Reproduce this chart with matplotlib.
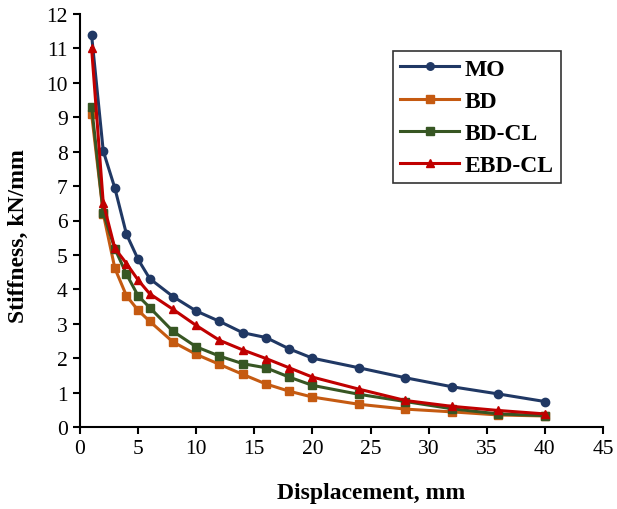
import matplotlib
matplotlib.use('Agg')
import matplotlib.pyplot as plt

# data
displacement = [1, 2, 3, 4, 5, 6, 8, 10, 12, 14, 16, 18, 20, 24, 28, 32, 36, 40]
mo = [11.38, 8.02, 6.94, 5.60, 4.87, 4.31, 3.79, 3.37, 3.07, 2.74, 2.60, 2.27, 2.00, 1.72, 1.43, 1.17, 0.96, 0.74]
bd = [9.09, 6.20, 4.61, 3.81, 3.39, 3.07, 2.47, 2.11, 1.82, 1.53, 1.25, 1.04, 0.87, 0.66, 0.52, 0.44, 0.35, 0.32]
bd_cl = [9.31, 6.22, 5.18, 4.44, 3.81, 3.47, 2.78, 2.33, 2.06, 1.84, 1.72, 1.45, 1.21, 0.95, 0.74, 0.53, 0.38, 0.33]
ebd_cl = [11.0, 6.51, 5.19, 4.75, 4.27, 3.87, 3.42, 2.95, 2.52, 2.24, 1.99, 1.72, 1.45, 1.10, 0.77, 0.60, 0.48, 0.38]

plt.rcParams['font.family'] = ['Liberation Serif', 'DejaVu Serif']

fig = plt.figure(figsize=(6.17, 5.10), dpi=100)
ax = fig.add_axes([80 / 617, 1 - 428 / 510, 523 / 617, 413 / 510])

series = [
    ('MO', mo, '#203864', 'o'),
    ('BD', bd, '#C55A11', 's'),
    ('BD-CL', bd_cl, '#375623', 's'),
    ('EBD-CL', ebd_cl, '#C00000', '^'),
]
for name, vals, col, mk in series:
    ax.plot(displacement, vals, color=col, marker=mk, markersize=6, linewidth=2.2, label=name)

ax.set_xlim(0, 45)
ax.set_ylim(0, 12)
ax.set_xticks(range(0, 46, 5))
ax.set_yticks(range(0, 13))
ax.spines['top'].set_visible(False)
ax.spines['right'].set_visible(False)
ax.spines['left'].set_linewidth(1.5)
ax.spines['bottom'].set_linewidth(1.5)
ax.tick_params(direction='out', length=5, width=1.5, labelsize=15.5, colors='black', pad=4)

# axis titles placed where they sit in the reference
fig.text(371 / 617, 1 - 494 / 510, 'Displacement, mm', fontsize=17, fontweight='bold',
         ha='center', va='center')
fig.text(18 / 617, 1 - 236 / 510, 'Stiffness, kN/mm', fontsize=17, fontweight='bold',
         ha='center', va='center', rotation=90)

leg = ax.legend(loc='upper left', bbox_to_anchor=(393 / 617, 1 - 52 / 510), bbox_transform=fig.transFigure,
                prop={'weight': 'bold', 'size': 17}, frameon=True, fancybox=False,
                handlelength=2.5, borderpad=0.3, labelspacing=0.45, handletextpad=0.25,
                borderaxespad=0, markerscale=0.9)
leg.get_frame().set_edgecolor('black')
leg.get_frame().set_linewidth(1.2)

fig.savefig('out.png', dpi=100)
